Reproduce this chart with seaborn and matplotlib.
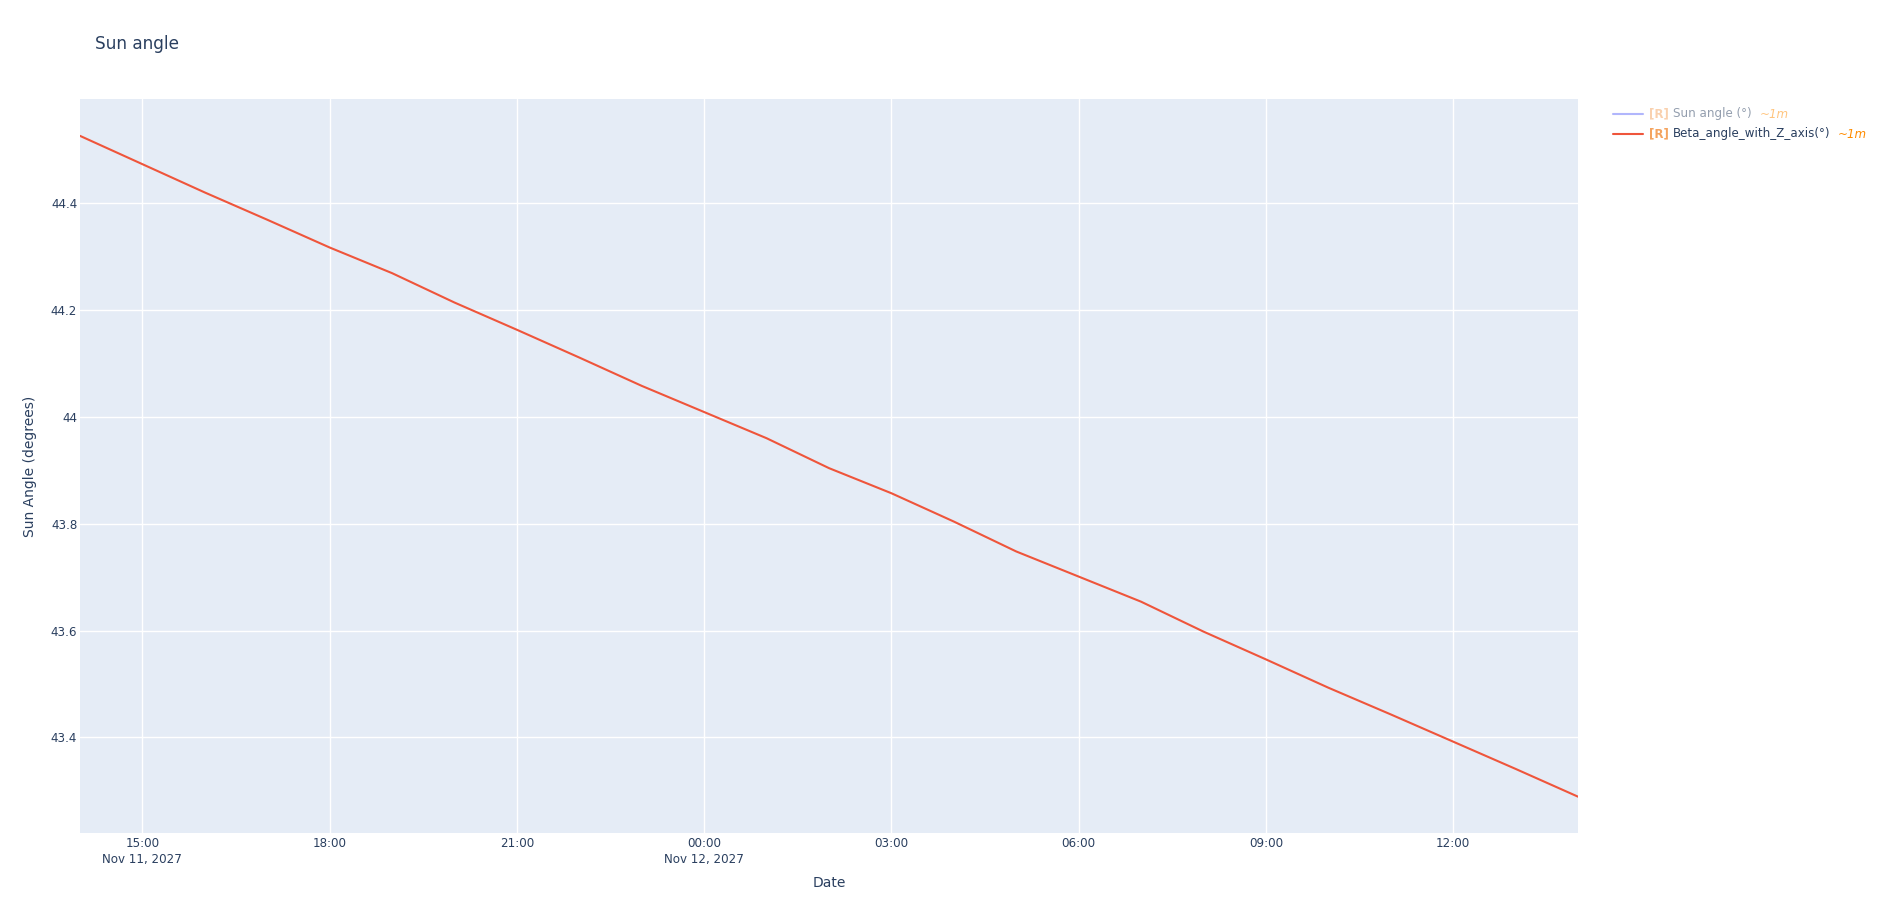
import pandas as pd
import matplotlib.pyplot as plt
from matplotlib.lines import Line2D
import seaborn as sns

# hourly samples
times = ["2027-11-11 14:00", "2027-11-11 15:00", "2027-11-11 16:00", "2027-11-11 17:00",
         "2027-11-11 18:00", "2027-11-11 19:00", "2027-11-11 20:00", "2027-11-11 21:00",
         "2027-11-11 22:00", "2027-11-11 23:00", "2027-11-12 00:00", "2027-11-12 01:00",
         "2027-11-12 02:00", "2027-11-12 03:00", "2027-11-12 04:00", "2027-11-12 05:00",
         "2027-11-12 06:00", "2027-11-12 07:00", "2027-11-12 08:00", "2027-11-12 09:00",
         "2027-11-12 10:00", "2027-11-12 11:00", "2027-11-12 12:00", "2027-11-12 13:00",
         "2027-11-12 14:00"]
beta_angle = [44.526, 44.473, 44.420, 44.369, 44.317, 44.269, 44.214, 44.163,
              44.111, 44.058, 44.009, 43.960, 43.904, 43.857, 43.804, 43.748,
              43.701, 43.654, 43.598, 43.546, 43.493, 43.443, 43.392, 43.341,
              43.289]

tick_times = ["2027-11-11 15:00", "2027-11-11 18:00", "2027-11-11 21:00", "2027-11-12 00:00",
              "2027-11-12 03:00", "2027-11-12 06:00", "2027-11-12 09:00", "2027-11-12 12:00"]
tick_labels = ["15:00\nNov 11, 2027", "18:00", "21:00", "00:00\nNov 12, 2027",
               "03:00", "06:00", "09:00", "12:00"]
y_ticks = [43.4, 43.6, 43.8, 44.0, 44.2, 44.4]
y_labels = ["43.4", "43.6", "43.8", "44", "44.2", "44.4"]

df = pd.DataFrame({"Date": pd.to_datetime(times), "angle": beta_angle})

TXT = "#2a3f5f"
sns.set_style("white")
plt.rcParams["font.family"] = ["DejaVu Sans"]

fig = plt.figure(figsize=(18.96, 9.13), dpi=100)
ax = fig.add_axes([80 / 1896, 1 - 833 / 913, 1498 / 1896, 734 / 913])
ax.set_facecolor("#E5ECF6")

sns.lineplot(data=df, x="Date", y="angle", color="#EF553B", linewidth=1.5, ax=ax)

ax.set_xlim(pd.Timestamp("2027-11-11 14:00"), pd.Timestamp("2027-11-12 14:00"))
ax.set_ylim(43.221, 44.595)
ax.set_xticks(pd.to_datetime(tick_times))
ax.set_xticklabels(tick_labels, linespacing=1.25)
ax.set_yticks(y_ticks)
ax.set_yticklabels(y_labels)
ax.grid(True, color="white", linewidth=1)
for s in ax.spines.values():
    s.set_visible(False)
ax.tick_params(length=0, labelsize=8.6, colors=TXT)
ax.tick_params(axis="x", pad=3)
ax.tick_params(axis="y", pad=2)

ax.set_xlabel("Date", fontsize=10, color=TXT)
ax.set_ylabel("Sun Angle (degrees)", fontsize=10, color=TXT)
ax.xaxis.set_label_coords(0.5, -0.058)
ax.yaxis.set_label_coords(-0.029, 0.5)

fig.text(95 / 1896, 1 - 44 / 913, "Sun angle", fontsize=12.2, color=TXT, va="center")

# legend, drawn piece by piece
rows = [("Sun angle (°)", "#b1b6fc", 0.5, 114), ("Beta_angle_with_Z_axis(°)", "#EF553B", 1.0, 134)]
for name, col, alpha, ypx in rows:
    yf = 1 - ypx / 913
    fig.add_artist(Line2D([1613 / 1896, 1643 / 1896], [yf, yf], color=col, lw=1.5,
                          transform=fig.transFigure))
    t1 = fig.text(1649 / 1896, yf, "[R]", fontsize=8.6, fontweight="bold",
                  color="#F4A460", alpha=alpha, va="center")
    t2 = ax.annotate(name, xy=(1, 0.5), xycoords=t1, xytext=(3, 0), textcoords="offset points",
                     fontsize=8.6, color=TXT, alpha=alpha, va="center", annotation_clip=False)
    ax.annotate("~1m", xy=(1, 0.5), xycoords=t2, xytext=(5.5, 0), textcoords="offset points",
                fontsize=8.6, color="#FF8C00", style="italic", alpha=alpha, va="center",
                annotation_clip=False)

fig.savefig("out.png", dpi=100)
plt.close()
